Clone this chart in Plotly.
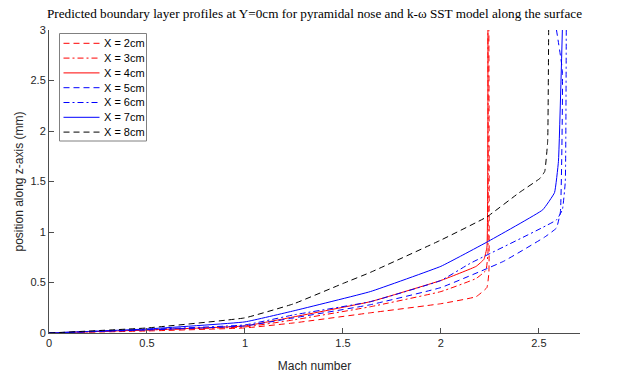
import plotly.graph_objects as go

# Data (Mach number vs position along z-axis in mm)
m_x2 = [0, 0.5, 1.0, 1.25, 1.64, 2.0, 2.18, 2.235, 2.245, 2.245]
z_x2 = [0, 0.02, 0.05, 0.10, 0.20, 0.29, 0.36, 0.45, 0.6, 3.0]

m_x3 = [0, 0.5, 1.0, 1.25, 1.64, 2.0, 2.18, 2.23, 2.24, 2.24]
z_x3 = [0, 0.03, 0.06, 0.13, 0.26, 0.41, 0.54, 0.62, 0.79, 3.0]

m_x4 = [0, 0.5, 1.0, 1.25, 1.64, 2.0, 2.18, 2.22, 2.235, 2.24]
z_x4 = [0, 0.03, 0.07, 0.16, 0.31, 0.52, 0.66, 0.73, 0.85, 3.0]

m_x5 = [0, 0.5, 1.0, 1.25, 1.64, 2.0, 2.32, 2.53, 2.59, 2.61, 2.62, 2.59]
z_x5 = [0, 0.03, 0.07, 0.15, 0.28, 0.45, 0.71, 0.95, 1.04, 1.2, 2.6, 3.0]

m_x6 = [0, 0.5, 1.0, 1.25, 1.64, 2.0, 2.15, 2.59, 2.62, 2.635, 2.64]
z_x6 = [0, 0.035, 0.08, 0.18, 0.31, 0.52, 0.69, 1.12, 1.22, 1.5, 3.0]

m_x7 = [0, 0.5, 1.0, 1.25, 1.64, 2.0, 2.1, 2.235, 2.52, 2.58, 2.6, 2.62]
z_x7 = [0, 0.04, 0.11, 0.22, 0.41, 0.66, 0.76, 0.9, 1.22, 1.39, 1.7, 3.0]

m_x8 = [0, 0.5, 1.0, 1.25, 1.5, 1.64, 2.0, 2.235, 2.4, 2.505, 2.53, 2.545, 2.55]
z_x8 = [0, 0.05, 0.15, 0.29, 0.49, 0.6, 0.92, 1.15, 1.39, 1.53, 1.6, 1.9, 3.0]

labels = ["X = 2cm", "X = 3cm", "X = 4cm", "X = 5cm", "X = 6cm", "X = 7cm", "X = 8cm"]

x_ticks = [0, 0.5, 1, 1.5, 2, 2.5]
x_tick_text = ["0", "0.5", "1", "1.5", "2", "2.5"]
y_ticks = [0, 0.5, 1, 1.5, 2, 2.5, 3]
y_tick_text = ["0", "0.5", "1", "1.5", "2", "2.5", "3"]

series = [
    (m_x2, z_x2, "#ff0000", "6px,4px"),
    (m_x3, z_x3, "#ff0000", "6px,3px,2px,3px"),
    (m_x4, z_x4, "#ff0000", "solid"),
    (m_x5, z_x5, "#0000ff", "6px,4px"),
    (m_x6, z_x6, "#0000ff", "6px,3px,2px,3px"),
    (m_x7, z_x7, "#0000ff", "solid"),
    (m_x8, z_x8, "#000000", "6px,4px"),
]

W, H = 623, 375
ML, MR, MT, MB = 49, 43, 30, 42
PW, PH = W - ML - MR, H - MT - MB


def px_x(p):
    return (p - ML) / PW


def px_y(p):
    return (H - MB - p) / PH


fig = go.Figure()
for (mx, zz, col, dash), lab in zip(series, labels):
    fig.add_trace(go.Scatter(x=mx, y=zz, mode="lines", name=lab, showlegend=False,
                             line=dict(color=col, width=1, dash=dash, shape="spline", smoothing=0.3)))

# Legend box drawn by hand (MATLAB-style compact legend)
shapes = [dict(type="rect", xref="paper", yref="paper",
               x0=px_x(59.5), x1=px_x(146.5), y0=px_y(141), y1=px_y(33.5),
               line=dict(color="#808080", width=1), fillcolor="white", layer="above")]
annotations = []
for i, ((mx, zz, col, dash), lab) in enumerate(zip(series, labels)):
    yc = 43.3 + 14.8 * i
    shapes.append(dict(type="line", xref="paper", yref="paper",
                       x0=px_x(63.5), x1=px_x(99.5), y0=px_y(yc), y1=px_y(yc),
                       line=dict(color=col, width=1, dash=dash), layer="above"))
    annotations.append(dict(text=lab, xref="paper", yref="paper", x=px_x(101.5), y=px_y(yc),
                            xanchor="left", yanchor="middle", showarrow=False,
                            font=dict(size=11, color="black")))

axis_col = "#262626"
fig.update_layout(
    width=W, height=H,
    margin=dict(l=ML, r=MR, t=MT, b=MB, autoexpand=False),
    paper_bgcolor="white", plot_bgcolor="white",
    font=dict(family="Liberation Sans, Arial, sans-serif", size=11, color=axis_col),
    title=dict(text="Predicted boundary layer profiles at Y=0cm for pyramidal nose and k-\u03c9 SST model along the surface",
               x=0.5, xref="paper", y=0.965, yref="container", xanchor="center", yanchor="middle",
               font=dict(family="Liberation Serif, Times New Roman, serif", size=13.2, color="black")),
    xaxis=dict(range=[0, 2.71], tickvals=x_ticks, ticktext=x_tick_text, automargin=False,
               showline=True, linecolor="#4d4d4d", linewidth=1, mirror=False,
               ticks="inside", ticklen=5, tickcolor="#4d4d4d", showgrid=False, zeroline=False,
               title=dict(text="Mach number", standoff=13, font=dict(size=12))),
    yaxis=dict(range=[0, 3], tickvals=y_ticks, ticktext=y_tick_text, automargin=False,
               showline=True, linecolor="#4d4d4d", linewidth=1, mirror=False,
               ticks="inside", ticklen=5, tickcolor="#4d4d4d", showgrid=False, zeroline=False,
               title=dict(text="position along z-axis (mm)", standoff=4, font=dict(size=12))),
    shapes=shapes,
    annotations=annotations,
    showlegend=False,
)

fig.write_html("out.html")
